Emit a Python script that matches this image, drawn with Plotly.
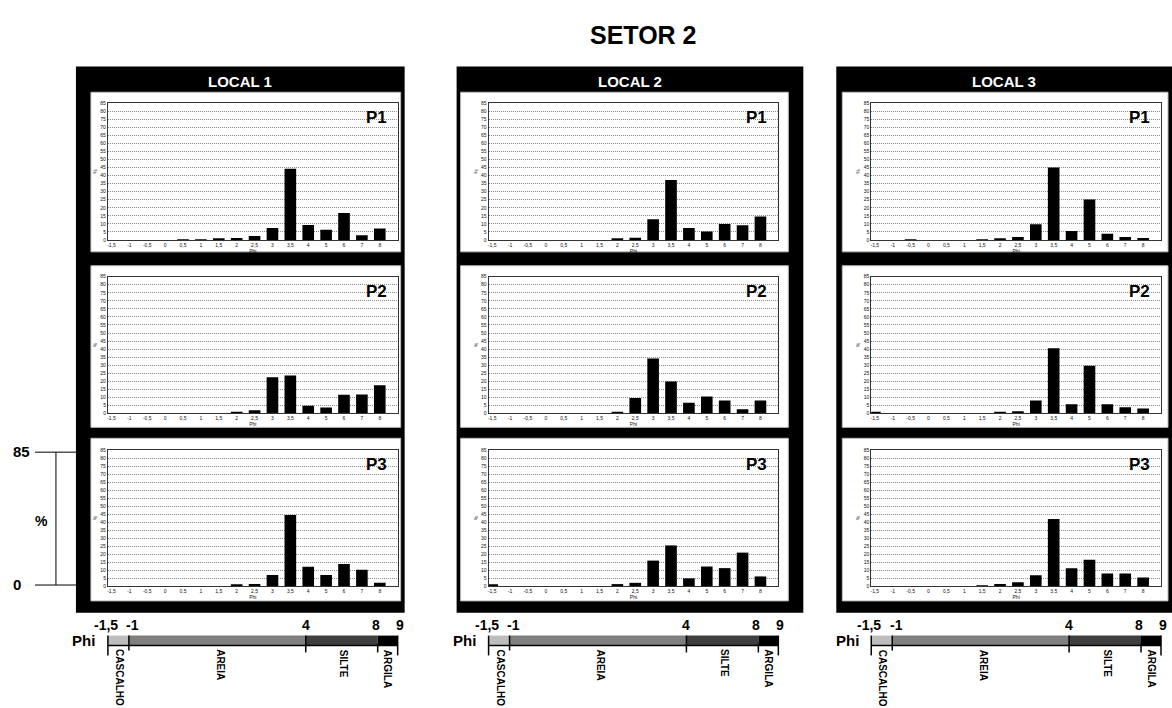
import plotly.graph_objects as go

# ---------------- DATA ----------------
phi_categories = ["-1,5", "-1", "-0,5", "0", "0,5", "1", "1,5", "2", "2,5",
                  "3", "3,5", "4", "5", "6", "7", "8"]

local1_p1 = [0, 0, 0, 0, 0.2, 0.4, 0.6, 1.2, 2.5, 7.4, 44.3, 9.3, 6.4, 16.8, 2.9, 7.2]
local1_p2 = [0, 0, 0, 0, 0, 0, 0, 0.8, 2.0, 22.5, 23.6, 4.8, 3.7, 11.6, 11.8, 17.6]
local1_p3 = [0, 0, 0, 0, 0, 0, 0, 0.6, 1.2, 6.9, 44.5, 12.0, 6.9, 13.7, 10.2, 2.1]

local2_p1 = [0, 0, 0, 0, 0, 0, 0, 0.8, 1.4, 12.8, 37.3, 7.4, 5.2, 9.9, 9.1, 14.6]
local2_p2 = [0, 0, 0, 0, 0, 0, 0, 1.0, 9.7, 34.2, 19.8, 6.6, 10.5, 8.0, 2.7, 8.0]
local2_p3 = [1.0, 0, 0, 0, 0, 0, 0, 1.2, 2.0, 15.9, 25.4, 4.8, 12.2, 11.2, 20.9, 6.0]

local3_p1 = [0, 0, 0.2, 0, 0, 0, 0.2, 0.8, 1.9, 9.7, 45.0, 5.6, 25.2, 3.9, 1.9, 1.2]
local3_p2 = [0.8, 0, 0, 0, 0, 0, 0, 0.8, 1.4, 8.0, 40.6, 5.8, 29.7, 5.8, 3.9, 3.1]
local3_p3 = [0, 0, 0, 0, 0, 0, 0.2, 1.2, 2.3, 6.8, 41.9, 11.1, 16.5, 7.8, 7.8, 5.4]

local_names = ["LOCAL 1", "LOCAL 2", "LOCAL 3"]
profile_names = ["P1", "P2", "P3"]
series = [[local1_p1, local1_p2, local1_p3],
          [local2_p1, local2_p2, local2_p3],
          [local3_p1, local3_p2, local3_p3]]

y_ticks = list(range(0, 86, 5))

# grain-size scale (phi boundaries and classes)
scale_bounds = ["-1,5", "-1", "4", "8", "9"]
scale_classes = ["CASCALHO", "AREIA", "SILTE", "ARGILA"]
scale_colors = ["#bdbdbd", "#7f7f7f", "#3f3f3f", "#000000"]

chart_title = "SETOR 2"

# ---------------- LAYOUT GEOMETRY (pixels) ----------------
W, H = 1172, 708
FONT = "Liberation Sans, Arial, sans-serif"


def fx(px):
    return px / W


def fy(py):
    return 1 - py / H


col_left = [107, 488, 871]
plot_w = 290
row_top = [101, 276, 451]
row_bot = [239, 414, 588]
frames_x = [(75, 404), (456, 803), (836, 1172)]
frame_y = (64, 615)
white_x = [(90, 400), (460, 788), (842, 1168)]
white_y = [(90, 251), (265, 428), (439, 603)]
# relative positions (fraction of plot width) of the scale boundaries
bound_frac = [0.0, 21 / 290, 198 / 290, 270 / 290, 1.0]
class_offsets = [11, 112, 236, 280]

fig = go.Figure()
shapes = []
annotations = []
layout_axes = {}

# frames and white panels
for c in range(3):
    x0, x1 = frames_x[c]
    shapes.append(dict(type="rect", xref="paper", yref="paper",
                       x0=fx(x0), x1=fx(x1), y0=fy(frame_y[1]), y1=fy(frame_y[0]),
                       fillcolor="black", line=dict(width=0), layer="below"))
    annotations.append(dict(text="<b>%s</b>" % local_names[c], xref="paper", yref="paper",
                            x=fx((x0 + x1) / 2), y=fy(79), xanchor="center", yanchor="middle",
                            showarrow=False, font=dict(family=FONT, size=15, color="white")))
    for r in range(3):
        wx0, wx1 = white_x[c]
        wy0, wy1 = white_y[r]
        shapes.append(dict(type="rect", xref="paper", yref="paper",
                           x0=fx(wx0), x1=fx(wx1), y0=fy(wy1), y1=fy(wy0),
                           fillcolor="white", line=dict(color="#bbbbbb", width=1), layer="below"))

# subplots
for c in range(3):
    for r in range(3):
        k = c * 3 + r + 1
        xa = "x" if k == 1 else "x%d" % k
        ya = "y" if k == 1 else "y%d" % k
        fig.add_trace(go.Bar(x=phi_categories, y=series[c][r], xaxis=xa, yaxis=ya,
                             marker=dict(color="black", line=dict(width=0)),
                             showlegend=False, hoverinfo="x+y"))
        L = col_left[c]
        xkey = "xaxis" if k == 1 else "xaxis%d" % k
        ykey = "yaxis" if k == 1 else "yaxis%d" % k
        layout_axes[xkey] = dict(
            domain=[fx(L), fx(L + plot_w)], anchor=ya, type="category",
            categoryorder="array", categoryarray=phi_categories,
            range=[-0.2, 16.0], showgrid=False, showline=True, mirror=True,
            linecolor="#333333", linewidth=1, ticks="", zeroline=False,
            tickfont=dict(family=FONT, size=5, color="#111111"),
            title=dict(text="Phi", font=dict(family=FONT, size=5, color="#111111"), standoff=0),
            fixedrange=True)
        layout_axes[ykey] = dict(
            domain=[fy(row_bot[r]), fy(row_top[r])], anchor=xa,
            range=[0, 85], tickvals=y_ticks, showgrid=True, gridcolor="#8a8a8a",
            griddash="1px,1px", gridwidth=1, showline=True, mirror=True,
            linecolor="#333333", linewidth=1, zeroline=False, ticks="",
            tickfont=dict(family=FONT, size=5, color="#111111"),
            title=dict(text="%", font=dict(family=FONT, size=5, color="#111111"), standoff=2),
            fixedrange=True)
        annotations.append(dict(text="<b>%s</b>" % profile_names[r], xref="paper", yref="paper",
                                x=fx(L + plot_w - 9), y=fy(row_top[r] + 3),
                                xanchor="right", yanchor="top", showarrow=False,
                                font=dict(family=FONT, size=17, color="black")))

# grain-size scale under each frame
for c in range(3):
    L = col_left[c]
    bx = [L + f * plot_w for f in bound_frac]
    for i in range(4):
        shapes.append(dict(type="rect", xref="paper", yref="paper",
                           x0=fx(bx[i]), x1=fx(bx[i + 1]), y0=fy(648), y1=fy(638),
                           fillcolor=scale_colors[i], line=dict(width=0)))
    shapes.append(dict(type="line", xref="paper", yref="paper",
                       x0=fx(bx[0]), x1=fx(bx[4]), y0=fy(648), y1=fy(648),
                       line=dict(color="black", width=1.5)))
    tick_ranges = [(638, 658), (638, 653), (638, 655), (646, 655), (638, 658)]
    for i in range(5):
        t0, t1 = tick_ranges[i]
        shapes.append(dict(type="line", xref="paper", yref="paper",
                           x0=fx(bx[i]), x1=fx(bx[i]), y0=fy(t1), y1=fy(t0),
                           line=dict(color="black", width=1.5)))
    label_dx = [-2, 4, 0, -2, 2]
    for i in range(5):
        annotations.append(dict(text="<b>%s</b>" % scale_bounds[i], xref="paper", yref="paper",
                                x=fx(bx[i] + label_dx[i]), y=fy(627), xanchor="center",
                                yanchor="middle", showarrow=False,
                                font=dict(family=FONT, size=14, color="black")))
    annotations.append(dict(text="<b>Phi</b>", xref="paper", yref="paper",
                            x=fx(L - 24), y=fy(643), xanchor="center", yanchor="middle",
                            showarrow=False, font=dict(family=FONT, size=15, color="black")))
    for i in range(4):
        annotations.append(dict(text="<b>%s</b>" % scale_classes[i], xref="paper", yref="paper",
                                x=fx(L + class_offsets[i]), y=fy(650), xanchor="center",
                                yanchor="top", textangle=90, showarrow=False,
                                font=dict(family=FONT, size=10, color="black")))

# left % bracket
shapes += [
    dict(type="line", xref="paper", yref="paper", x0=fx(34), x1=fx(75), y0=fy(453), y1=fy(453),
         line=dict(color="black", width=1)),
    dict(type="line", xref="paper", yref="paper", x0=fx(34), x1=fx(75), y0=fy(587), y1=fy(587),
         line=dict(color="black", width=1)),
    dict(type="line", xref="paper", yref="paper", x0=fx(55), x1=fx(55), y0=fy(587), y1=fy(453),
         line=dict(color="black", width=1)),
]
annotations += [
    dict(text="<b>85</b>", xref="paper", yref="paper", x=fx(21), y=fy(452), xanchor="center",
         yanchor="middle", showarrow=False, font=dict(family=FONT, size=15, color="black")),
    dict(text="<b>0</b>", xref="paper", yref="paper", x=fx(16), y=fy(586), xanchor="center",
         yanchor="middle", showarrow=False, font=dict(family=FONT, size=15, color="black")),
    dict(text="<b>%</b>", xref="paper", yref="paper", x=fx(41), y=fy(522), xanchor="center",
         yanchor="middle", showarrow=False, font=dict(family=FONT, size=14, color="black")),
    dict(text="<b>%s</b>" % chart_title, xref="paper", yref="paper", x=fx(643), y=fy(32),
         xanchor="center", yanchor="middle", showarrow=False,
         font=dict(family=FONT, size=25, color="black")),
]

fig.update_layout(
    width=W, height=H, autosize=False,
    margin=dict(l=0, r=0, t=0, b=0, pad=0),
    paper_bgcolor="white", plot_bgcolor="white",
    bargap=0.35, showlegend=False,
    shapes=shapes, annotations=annotations,
    font=dict(family=FONT, color="black"),
    **layout_axes,
)

fig.write_html("out.html", config={"displayModeBar": False})
